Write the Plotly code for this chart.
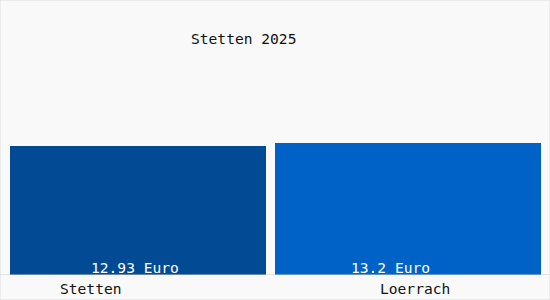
import plotly.graph_objects as go

categories = ["Stetten", "Loerrach"]
values = [12.93, 13.2]
value_labels = ["12.93 Euro", "13.2 Euro"]
title_text = "Stetten 2025"
colors = ["#024a93", "#0062c6"]

# layout geometry (pixel-like x axis units)
bar_centers = [138, 408]
bar_widths = [256, 266]
tick_pos = [91, 415]
label_pos = [135, 390]

font = "DejaVu Sans Mono, monospace"
fsize = 14.6
PLOT_H = 275

fig = go.Figure()
fig.add_trace(go.Bar(
    x=bar_centers, y=values, width=bar_widths,
    marker=dict(color=colors, line=dict(width=0)),
    hoverinfo="skip",
))

for xp, txt in zip(label_pos, value_labels):
    fig.add_annotation(x=xp, y=0, xref="x", yref="y", text=txt, showarrow=False,
                       yanchor="middle", yshift=8,
                       font=dict(family=font, size=fsize, color="white"))

for xp, txt in zip(tick_pos, categories):
    fig.add_annotation(x=xp, y=-(288 - PLOT_H) / PLOT_H, xref="x", yref="paper", text=txt,
                       showarrow=False, yanchor="middle",
                       font=dict(family=font, size=fsize, color="#111111"))

fig.add_annotation(x=243, y=(PLOT_H - 38) / PLOT_H, xref="x", yref="paper", text=title_text,
                   showarrow=False, yanchor="middle",
                   font=dict(family=font, size=fsize, color="#111111"))

fig.update_layout(
    width=550, height=300,
    margin=dict(l=0, r=0, t=0, b=25),
    paper_bgcolor="#f9f9f9", plot_bgcolor="#f9f9f9",
    showlegend=False,
    bargap=0,
    xaxis=dict(range=[0, 550], showticklabels=False,
               showgrid=False, zeroline=False, showline=False, ticks="", fixedrange=True),
    yaxis=dict(range=[0, 27.5], showgrid=False, zeroline=False, showticklabels=False,
               showline=False, fixedrange=True),
    shapes=[
        dict(type="line", xref="paper", yref="y", x0=0, x1=1, y0=0, y1=0,
             line=dict(color="#cccccc", width=1)),
        dict(type="rect", xref="paper", yref="paper", x0=0, x1=1, y0=-25/275, y1=1,
             line=dict(color="#dddddd", width=1), fillcolor="rgba(0,0,0,0)"),
    ],
)

fig.write_html("out.html", config={"displayModeBar": False})
